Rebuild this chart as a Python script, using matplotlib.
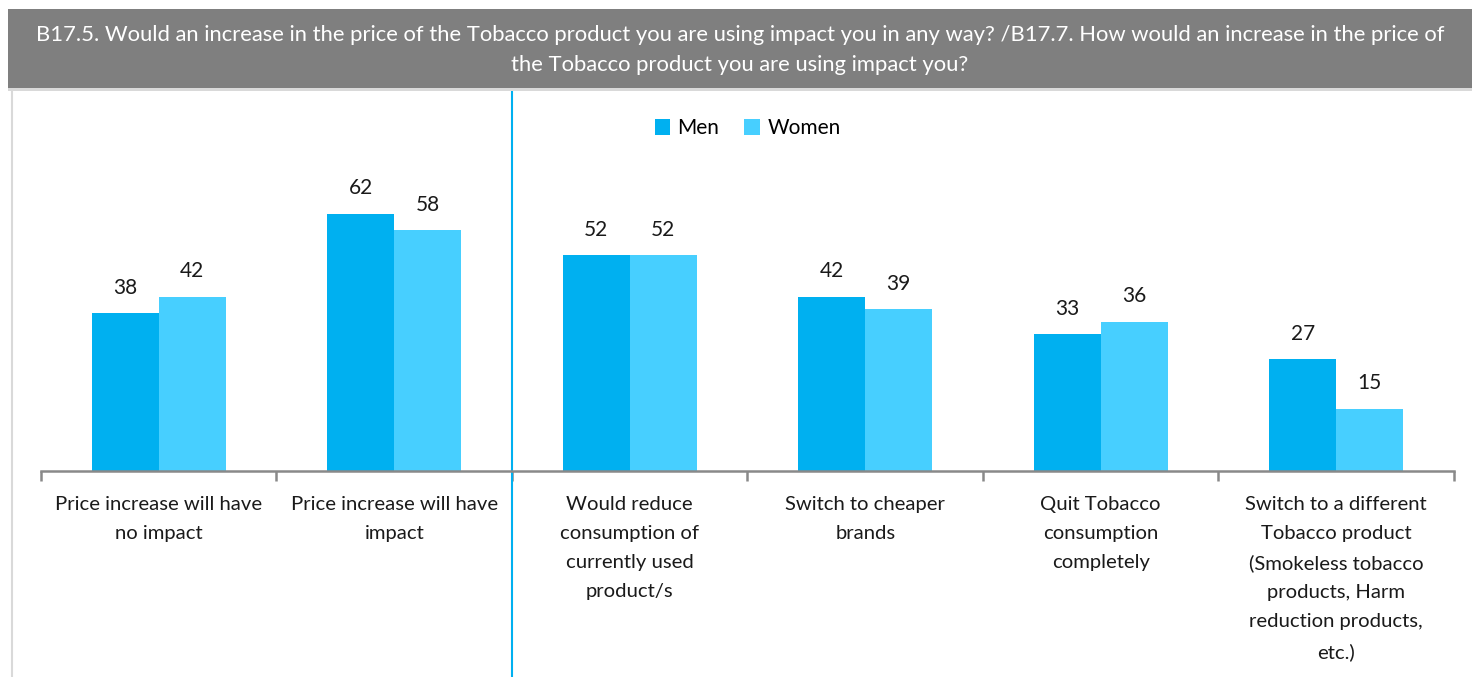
import numpy as np
import matplotlib.pyplot as plt
from matplotlib.patches import Rectangle
from matplotlib.lines import Line2D

plt.rcParams['font.family'] = ['Lato', 'DejaVu Sans']

categories = ['Price increase will have\nno impact',
              'Price increase will have\nimpact',
              'Would reduce\nconsumption of\ncurrently used\nproduct/s',
              'Switch to cheaper\nbrands',
              'Quit Tobacco\nconsumption\ncompletely',
              'Switch to a different\nTobacco product\n(Smokeless tobacco\nproducts, Harm\nreduction products,\netc.)']
men = [38, 62, 52, 42, 33, 27]
women = [42, 58, 52, 39, 36, 15]
title = ('B17.5. Would an increase in the price of the Tobacco product you are using impact you in any way? '
         '/B17.7. How would an increase in the price of\nthe Tobacco product you are using impact you?')

c_men = '#00B0F0'
c_women = '#47CFFF'

W, H = 1472, 677
fig = plt.figure(figsize=(W/100, H/100), dpi=100)

# header band
fig.patches.append(Rectangle((8/W, 1-88/H), 1-8/W, 79/H, transform=fig.transFigure,
                             facecolor='#7F7F7F', edgecolor='none'))
fig.patches.append(Rectangle((8/W, 1-91/H), 1-8/W, 3/H, transform=fig.transFigure,
                             facecolor='#D9D9D9', edgecolor='none'))
fig.lines.append(Line2D([12/W, 12/W], [0, 1-91/H], transform=fig.transFigure,
                        color='#D9D9D9', linewidth=1.5))
fig.text(0.5 + 4/W, 1-50/H, title, ha='center', va='center', color='white',
         fontsize=15.8, linespacing=1.6)

ax = fig.add_axes([41/W, 1-471/H, (1454-41)/W, (471-92)/H])
x = np.arange(len(categories))
bw = 0.284
b1 = ax.bar(x - bw/2, men, bw, color=c_men, label='Men')
b2 = ax.bar(x + bw/2, women, bw, color=c_women, label='Women')
for bars in (b1, b2):
    ax.bar_label(bars, padding=11, fontsize=15, color='#1a1a1a')

ax.set_xlim(-0.5, len(categories) - 0.5)
ax.set_ylim(0, 91.3)
for s in ['top', 'right', 'left']:
    ax.spines[s].set_visible(False)
ax.spines['bottom'].set_color('#898989')
ax.spines['bottom'].set_linewidth(1.8)
ax.set_yticks([])
ax.set_xticks(np.arange(-0.5, len(categories)))
ax.set_xticklabels([])
ax.tick_params(axis='x', length=7, width=1.8, color='#898989')
ax.set_xticks(x, minor=True)
ax.set_xticklabels(categories, minor=True)
ax.tick_params(axis='x', which='minor', length=0, pad=18, labelsize=14.6, labelcolor='#1a1a1a')
for t in ax.get_xticklabels(minor=True):
    t.set_linespacing(1.85)
    t.set_va('top')

# divider between the two questions
ax.axvline(1.5, ymin=-(677-471)/379, ymax=1, color='#00B0F0', linewidth=1.5, clip_on=False)

ax.legend(loc='upper center', bbox_to_anchor=(0.5, 0.98), ncol=2, frameon=False,
          fontsize=15, handlelength=0.75, handleheight=0.75, handletextpad=0.35, columnspacing=1.2)

fig.savefig('out.png', dpi=100)
